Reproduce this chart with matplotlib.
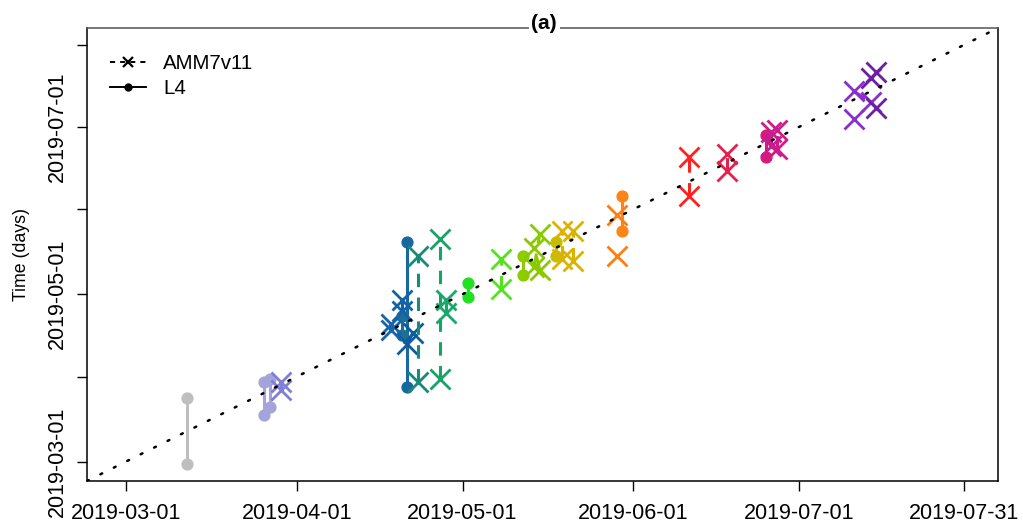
import numpy as np
import pandas as pd
import matplotlib
matplotlib.use("Agg")
import matplotlib.pyplot as plt
import matplotlib.dates as mdates
from matplotlib.lines import Line2D

plt.rcParams['font.family'] = ['Liberation Sans', 'DejaVu Sans']

# L4 observations: points sharing a track id are joined by a solid line
l4_track = [0, 0, 1, 1, 2, 2, 3, 3, 4, 4, 5, 5, 6, 6, 7, 7, 8, 8, 9, 9]
l4_x = ["2019-03-12", "2019-03-12",
        "2019-03-26", "2019-03-26",
        "2019-03-27", "2019-03-27",
        "2019-04-21", "2019-04-21",
        "2019-04-20", "2019-04-20",
        "2019-05-02", "2019-05-02",
        "2019-05-12", "2019-05-12",
        "2019-05-18", "2019-05-18",
        "2019-05-30", "2019-05-30",
        "2019-06-25", "2019-06-25"]
l4_y = ["2019-02-28", "2019-03-24",
        "2019-03-18", "2019-03-30",
        "2019-03-21", "2019-03-31",
        "2019-03-28", "2019-05-20",
        "2019-04-16", "2019-04-23",
        "2019-04-30", "2019-05-05",
        "2019-05-08", "2019-05-15",
        "2019-05-15", "2019-05-20",
        "2019-05-24", "2019-06-06",
        "2019-06-20", "2019-06-28"]
l4_colours = ["#BEBEBE", "#A4A4DA", "#A4A4DA", "#17689E", "#1F6E96",
              "#22E022", "#8CCC00", "#C4BE00", "#FF8418", "#D81A7A"]

# AMM7v11 model: points sharing a track id are joined by a dashed line
amm_track = [0, 0, 1, 1, 2, 2, 3, 3, 4, 4, 5, 5, 6, 6, 7, 7, 8, 8, 9, 9,
             10, 10, 11, 11, 12, 13, 14, 14, 15, 15, 16, 16, 17, 17,
             18, 18, 19, 20, 21, 22]
amm_x = ["2019-03-29", "2019-03-29",
         "2019-04-20", "2019-04-20",
         "2019-04-21", "2019-04-22",
         "2019-04-18", "2019-04-18",
         "2019-04-23", "2019-04-23",
         "2019-04-27", "2019-04-27",
         "2019-04-28", "2019-04-28",
         "2019-05-08", "2019-05-08",
         "2019-05-14", "2019-05-15",
         "2019-05-15", "2019-05-14",
         "2019-05-19", "2019-05-19",
         "2019-05-21", "2019-05-21",
         "2019-05-29", "2019-05-29",
         "2019-06-11", "2019-06-11",
         "2019-06-18", "2019-06-18",
         "2019-06-27", "2019-06-27",
         "2019-06-26", "2019-06-26",
         "2019-07-11", "2019-07-14",
         "2019-07-11", "2019-07-15", "2019-07-14", "2019-07-15"]
amm_y = ["2019-03-27", "2019-03-30",
         "2019-04-25", "2019-04-29",
         "2019-04-13", "2019-04-17",
         "2019-04-18", "2019-04-20",
         "2019-03-30", "2019-05-15",
         "2019-03-31", "2019-05-21",
         "2019-04-24", "2019-04-29",
         "2019-05-03", "2019-05-14",
         "2019-05-11", "2019-05-23",
         "2019-05-10", "2019-05-18",
         "2019-05-14", "2019-05-24",
         "2019-05-13", "2019-05-24",
         "2019-05-30", "2019-05-15",
         "2019-06-06", "2019-06-20",
         "2019-06-15", "2019-06-21",
         "2019-06-23", "2019-06-30",
         "2019-06-24", "2019-06-29",
         "2019-07-14", "2019-07-10",
         "2019-07-04", "2019-07-21", "2019-07-19", "2019-07-08"]
amm_colours = ["#7F7FD4", "#1262A6", "#0F5C9C", "#1566A8", "#178A78",
               "#15A466", "#18A86C", "#55E21C", "#88CC00", "#8CC800",
               "#DDB200", "#D8B400", "#FF7E10", "#FF7E10", "#FF2020",
               "#E6204C", "#D01A86", "#C81C92", "#8A2ECC", "#8A2ECC",
               "#6C1EA6", "#6C1EA6", "#6C1EA6"]

tick_dates = ["2019-03-01", "2019-04-01", "2019-05-01",
              "2019-06-01", "2019-07-01", "2019-07-31"]
y_tick_labels = ["2019-03-01", "", "2019-05-01", "", "2019-07-01", ""]


def to_num(dates):
    return mdates.date2num(pd.to_datetime(dates))


fig = plt.figure(figsize=(10.23, 5.26), dpi=100)
ax = fig.add_axes([0.085, 0.0856, 0.8906, 0.8612])

lx, ly = to_num(l4_x), to_num(l4_y)
l4_track = np.array(l4_track)
for t, col in enumerate(l4_colours):
    m = l4_track == t
    ax.plot(lx[m], ly[m], color=col, lw=2.2, marker='o', ms=7.8,
            solid_capstyle='butt', zorder=2)

ax_, ay_ = to_num(amm_x), to_num(amm_y)
amm_track = np.array(amm_track)
for t, col in enumerate(amm_colours):
    m = amm_track == t
    ax.plot(ax_[m], ay_[m], color=col, lw=2.2, ls=(0, (4.4, 3.4)),
            marker='x', ms=14.5, mew=2.0, zorder=3)

# 1:1 line over the whole range
t0 = to_num(["2019-03-01"])[0]
lo, hi = t0 - 7.1, t0 + 158.1
ax.plot([lo, hi], [lo, hi], color='black', lw=1.8, ls=(0, (0.8, 5.2)),
        dash_capstyle='round', zorder=5)
ax.set_xlim(lo, hi)
ax.set_ylim(lo, hi)

ticks = to_num(tick_dates)
ax.set_xticks(ticks)
ax.set_xticklabels(tick_dates, fontsize=15.5)
ax.set_yticks(ticks)
ax.set_yticklabels(y_tick_labels, fontsize=15.5, rotation=90, va='center')
ax.tick_params(direction='out', length=7, width=1, color='black')
ax.tick_params(axis='x', pad=9)
ax.tick_params(axis='y', pad=7)
for s in ax.spines.values():
    s.set_linewidth(1.1)
ax.spines['top'].set_color('#555555')

ax.set_ylabel("Time (days)", fontsize=12.8)
ax.yaxis.set_label_coords(-0.063, 0.5)

handles = [Line2D([], [], color='black', lw=1.4, ls=(0, (2.6, 2.6)),
                  marker='x', ms=7, mew=1.6),
           Line2D([], [], color='black', lw=1.4, marker='o', ms=5)]
ax.legend(handles, ["AMM7v11", "L4"], loc='upper left',
          bbox_to_anchor=(0.025, 0.942), frameon=False, fontsize=14.8,
          handlelength=1.75, handletextpad=0.85, labelspacing=0.3,
          borderpad=0, borderaxespad=0)

fig.text(0.532, 0.956, "(a)", fontsize=15, fontweight='bold',
         ha='center', va='center',
         bbox=dict(facecolor='white', edgecolor='none', pad=2))

fig.savefig("out.png", dpi=100)
